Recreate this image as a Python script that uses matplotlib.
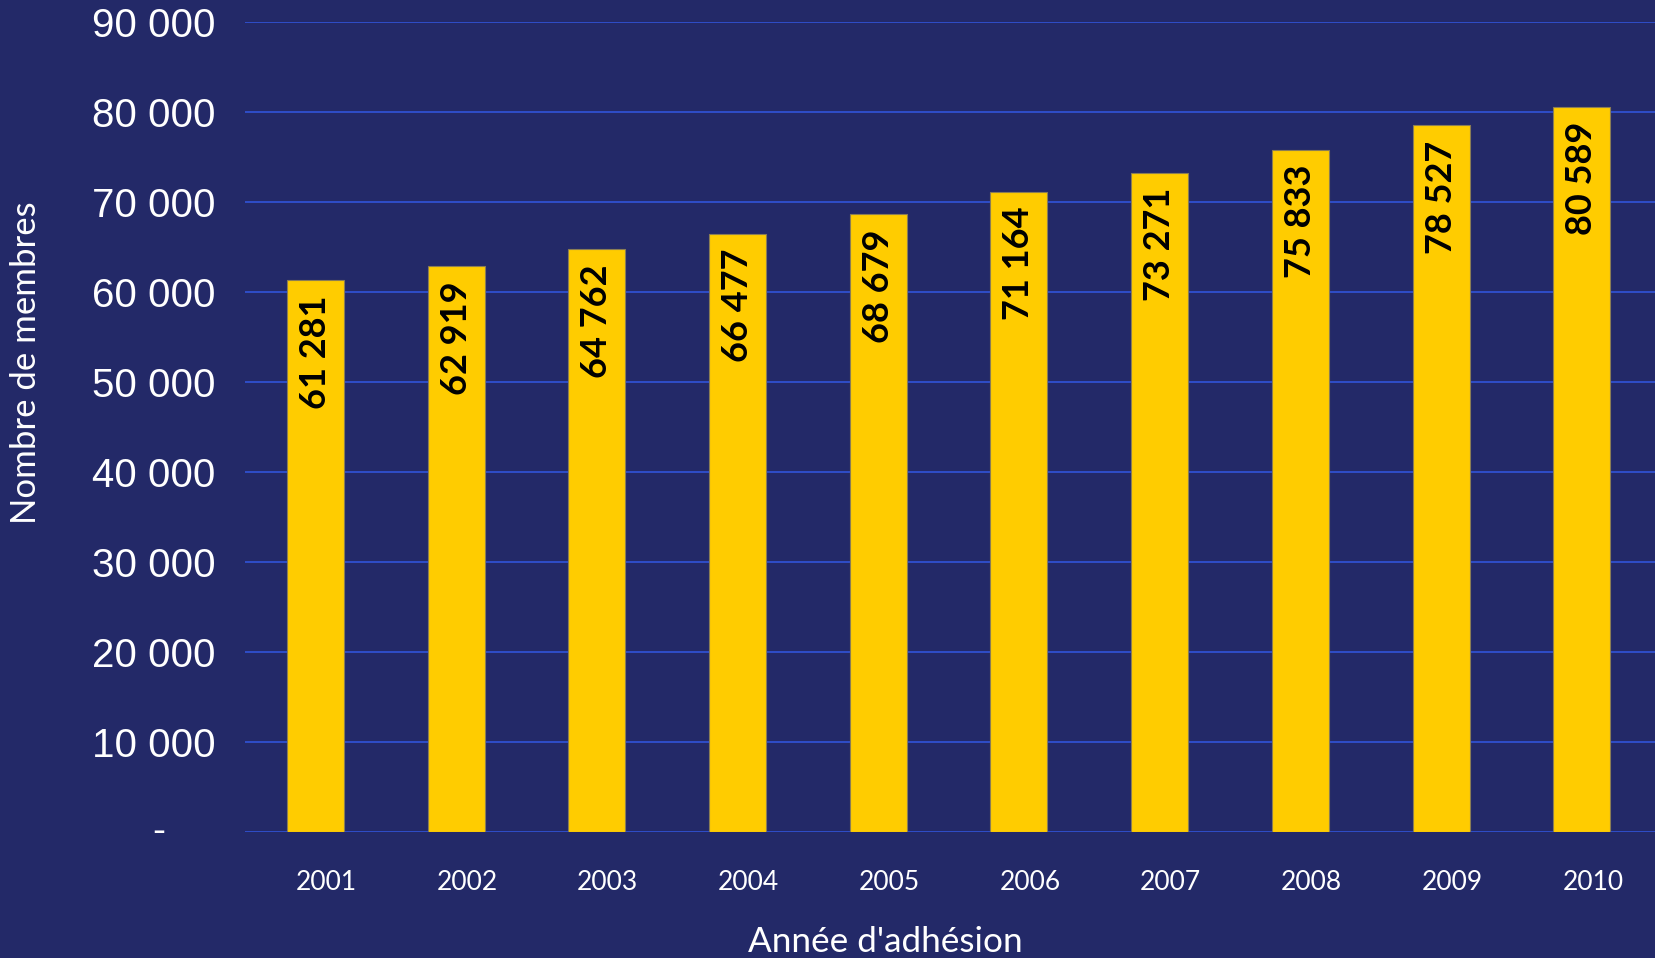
import matplotlib
matplotlib.use("Agg")
import matplotlib.pyplot as plt
from matplotlib.ticker import FixedLocator
import matplotlib.transforms as mtransforms

years = ["2001", "2002", "2003", "2004", "2005", "2006", "2007", "2008", "2009", "2010"]
members = [61281, 62919, 64762, 66477, 68679, 71164, 73271, 75833, 78527, 80589]
ytick_values = [0, 10000, 20000, 30000, 40000, 50000, 60000, 70000, 80000, 90000]
ytick_labels = ["", "10 000", "20 000", "30 000", "40 000", "50 000", "60 000", "70 000", "80 000", "90 000"]
xlabel = "Année d'adhésion"
ylabel = "Nombre de membres"

BG = "#232968"
GRID = "#3050d0"
BAR = "#ffcc00"

fig = plt.figure(figsize=(16.55, 9.58), dpi=100, facecolor=BG)
ax = fig.add_axes([245/1655, (958-832)/958, 1410/1655, 810/958])
ax.set_facecolor(BG)

x = list(range(len(years)))
bars = ax.bar(x, members, width=0.405, color=BAR, edgecolor="#8a7d55", linewidth=0.8, zorder=3)

ax.set_xlim(-0.5, 9.52)
ax.set_ylim(0, 90000)
ax.yaxis.set_major_locator(FixedLocator(ytick_values))
ax.set_yticklabels(ytick_labels)
ax.set_xticks(x)
ax.set_xticklabels(years)

for s in ax.spines.values():
    s.set_visible(False)
ax.grid(axis="y", color=GRID, linewidth=1.3, zorder=1)
ax.tick_params(axis="y", length=0, pad=21, labelsize=29, labelcolor="white")
ax.tick_params(axis="x", length=0, pad=27, labelsize=19, labelcolor="white")
for lab in ax.get_yticklabels():
    lab.set_fontfamily("Liberation Sans")
shift = mtransforms.ScaledTranslation(11/100, 0, fig.dpi_scale_trans)
for lab in ax.get_xticklabels():
    lab.set_fontfamily("Lato")
    lab.set_transform(lab.get_transform() + shift)

# zero tick shown as a dash
trans = mtransforms.blended_transform_factory(ax.transAxes, ax.transData)
ax.annotate("-", xy=(0, ytick_values[0]), xycoords=trans, xytext=(-62, 0),
            textcoords="offset points", ha="center", va="center",
            fontsize=28, color="white", family="Liberation Sans")

for rect, v in zip(bars, members):
    txt = f"{v:,}".replace(",", " ")
    ax.annotate(txt, xy=(rect.get_x() + rect.get_width()/2, v), xytext=(0, -11),
                textcoords="offset points", rotation=90, ha="center", va="top",
                fontsize=26, fontweight="bold", family="Lato", color="black", zorder=4)

fig.text(885/1655, 1 - 952/958, xlabel, ha="center", va="baseline",
         fontsize=25.3, color="white", family="Lato")
fig.text(26/1655, 1 - 363/958, ylabel, ha="center", va="center", rotation=90,
         fontsize=25, color="white", family="Lato")

fig.savefig("out.png", dpi=100, facecolor=BG)
